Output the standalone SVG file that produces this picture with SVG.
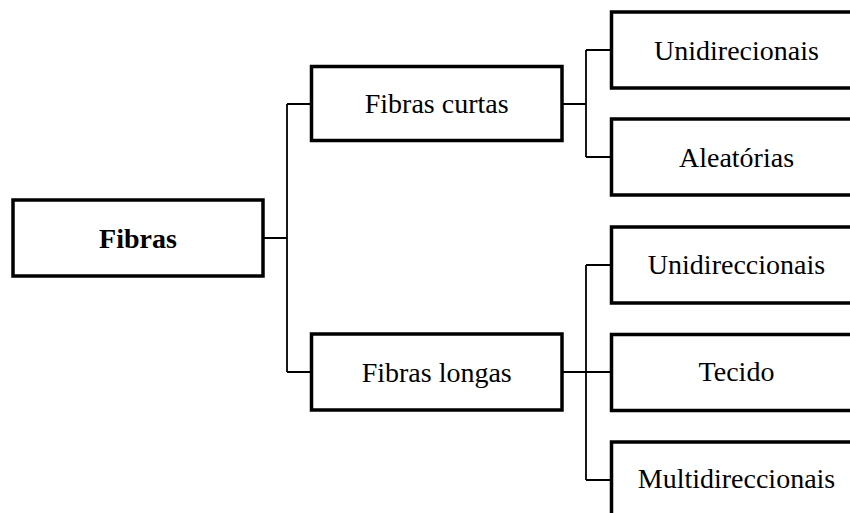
<svg xmlns="http://www.w3.org/2000/svg" width="850" height="513" viewBox="0 0 850 513">
  <style>
    .box { fill: #ffffff; stroke: #000000; stroke-width: 3.5; }
    .link { fill: none; stroke: #000000; stroke-width: 1.8; }
    .lbl { font-family: 'Liberation Serif', 'DejaVu Serif', serif; font-size: 28px; fill: #000000; text-anchor: middle; }
    .root { font-weight: bold; }
  </style>
  <rect width="850" height="513" fill="#ffffff"/>

  <!-- connectors -->
  <g id="connectors">
    <path class="link" d="M263 238 H287 M287 104 V372 M287 104 H311.5 M287 372 H311.5"/>
    <path class="link" d="M562 104 H586 M586 50 V157 M586 50 H611.5 M586 157 H611.5"/>
    <path class="link" d="M562 372 H611.5 M586 265 V480 M586 265 H611.5 M586 480 H611.5"/>
  </g>

  <g id="fibras">
    <rect class="box" x="13" y="200" width="250" height="76"/>
    <text class="lbl root" x="138" y="247.5">Fibras</text>
  </g>

  <g id="fibras-curtas">
    <rect class="box" x="311.5" y="66.5" width="250.5" height="74"/>
    <text class="lbl" x="436.7" y="113">Fibras curtas</text>
  </g>

  <g id="fibras-longas">
    <rect class="box" x="311.5" y="334" width="250.5" height="76"/>
    <text class="lbl" x="436.7" y="381.5">Fibras longas</text>
  </g>

  <g id="curtas-unidirecionais">
    <rect class="box" x="611.5" y="12" width="250" height="76"/>
    <text class="lbl" x="736.5" y="59.5">Unidirecionais</text>
  </g>

  <g id="curtas-aleatorias">
    <rect class="box" x="611.5" y="119" width="250" height="76"/>
    <text class="lbl" x="736.5" y="166.5">Aleatórias</text>
  </g>

  <g id="longas-unidireccionais">
    <rect class="box" x="611.5" y="227" width="250" height="76"/>
    <text class="lbl" x="736.5" y="274">Unidireccionais</text>
  </g>

  <g id="longas-tecido">
    <rect class="box" x="611.5" y="334.5" width="250" height="76"/>
    <text class="lbl" x="736.5" y="381">Tecido</text>
  </g>

  <g id="longas-multidireccionais">
    <rect class="box" x="611.5" y="442" width="250" height="76"/>
    <text class="lbl" x="736.5" y="488">Multidireccionais</text>
  </g>
</svg>
